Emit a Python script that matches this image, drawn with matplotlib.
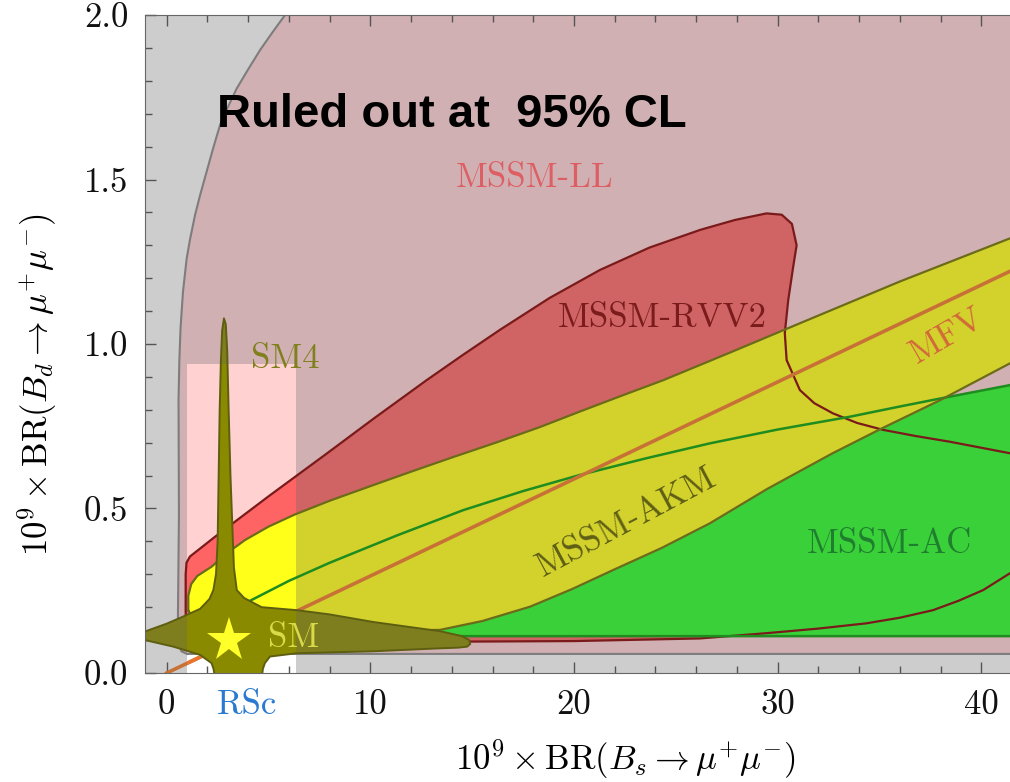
import matplotlib
matplotlib.use('Agg')
import matplotlib.pyplot as plt
from matplotlib.patches import Rectangle
from matplotlib.ticker import MultipleLocator

plt.rcParams['font.family'] = ['cmr10', 'DejaVu Serif']
plt.rcParams['mathtext.fontset'] = 'cm'
plt.rcParams['axes.unicode_minus'] = False
plt.rcParams['axes.formatter.use_mathtext'] = True

# allowed region (RSc box)
rsc_x0, rsc_x1, rsc_y1 = 1.0, 6.35, 0.94

# MSSM-LL region
ll_x = [1.0, 0.72, 0.6, 0.55, 0.6, 0.58, 0.62, 0.68, 0.8, 0.98, 1.15, 1.39, 1.65, 1.96, 2.28, 2.62, 3.0,
        3.44, 4.0, 4.6, 5.2, 5.81, 7.2, 43.0, 43.0]
ll_y = [0.058, 0.066, 0.09, 0.17, 0.48, 0.83, 0.95, 1.05, 1.16, 1.26, 1.32, 1.392, 1.455, 1.524, 1.595, 1.666,
        1.72, 1.777, 1.835, 1.895, 1.948, 2.0, 2.1, 2.1, 0.058]

# MSSM-RVV2 region
rvv_x = [0.95, 0.93, 0.93, 0.97, 1.14, 2.37, 5.0, 7.77, 10.2, 12.76, 14.5, 16.36, 18.8, 21.27, 23.7, 26.2,
         27.9, 29.45, 30.2, 30.7, 30.93, 30.75, 30.52, 30.35, 30.44, 31.09, 31.8, 32.72, 33.9, 35.18, 36.8,
         38.45, 41.4, 43.0, 43.0, 41.4, 40.09, 38.9, 37.63, 36.0, 34.36, 32.0, 29.45, 26.18, 20.0, 10.0, 3.0,
         1.2]
rvv_y = [0.12, 0.19, 0.3, 0.335, 0.354, 0.414, 0.537, 0.663, 0.775, 0.89, 0.965, 1.043, 1.14, 1.225, 1.293,
         1.347, 1.377, 1.397, 1.393, 1.365, 1.3, 1.23, 1.134, 1.033, 0.951, 0.86, 0.82, 0.789, 0.76, 0.739,
         0.72, 0.703, 0.668, 0.65, 0.35, 0.303, 0.252, 0.22, 0.191, 0.168, 0.151, 0.135, 0.121, 0.105, 0.097,
         0.094, 0.094, 0.1]

# MSSM-AC region (upper boundary + bottom)
ac_top_x = [3.0, 4.17, 6.0, 8.0, 11.3, 14.56, 17.5, 20.29, 23.5, 26.67, 30.0, 33.55, 36.0, 38.45, 41.4, 43.0]
ac_top_y = [0.18, 0.222, 0.28, 0.335, 0.418, 0.495, 0.553, 0.602, 0.652, 0.698, 0.74, 0.779, 0.81, 0.84,
            0.875, 0.89]
ac_bottom = 0.112

# MSSM-AKM band
akm_up_x = [1.06, 1.06, 1.2, 1.5, 2.2, 3.0, 3.84, 5.0, 6.3, 8.02, 10.0, 12.0, 14.0, 16.2, 18.3, 20.3, 22.3,
            24.38, 27.7, 31.09, 36.0, 41.4, 43.0]
akm_up_y = [0.19, 0.235, 0.27, 0.295, 0.323, 0.366, 0.404, 0.445, 0.482, 0.524, 0.568, 0.612, 0.655, 0.701,
            0.747, 0.795, 0.842, 0.89, 0.975, 1.063, 1.19, 1.321, 1.36]
akm_lo_x = [43.0, 41.4, 38.0, 35.0, 32.7, 29.5, 26.67, 24.3, 21.92, 19.9, 17.84, 15.5, 13.42, 10.0, 5.0, 2.0,
            1.2]
akm_lo_y = [0.99, 0.941, 0.83, 0.74, 0.668, 0.56, 0.455, 0.38, 0.313, 0.255, 0.2015, 0.158, 0.131, 0.128,
            0.135, 0.15, 0.175]

# SM4 region
sm4_x = [-1.5, -1.07, 0.0, 0.75, 1.64, 2.1, 2.29, 2.42, 2.5, 2.55, 2.6, 2.66, 2.72, 2.81, 2.9, 2.97, 3.04,
         3.13, 3.22, 3.3, 3.44, 3.8, 4.66, 6.38, 8.0, 10.14, 13.42, 14.5, 14.85, 14.9, 14.75, 14.3, 13.42,
         10.14, 6.38, 5.07, 4.82, 4.72, 4.68, 2.36, 2.3, 2.2, 1.64, 0.33, -1.07, -1.5]
sm4_y = [0.126, 0.126, 0.15, 0.17, 0.195, 0.225, 0.252, 0.3, 0.4, 0.6, 0.8, 0.95, 1.04, 1.078, 1.06, 0.98,
         0.8, 0.6, 0.45, 0.32, 0.252, 0.228, 0.2, 0.191, 0.178, 0.155, 0.127, 0.112, 0.1, 0.088, 0.08, 0.077,
         0.075, 0.066, 0.06, 0.05, 0.03, 0.012, -0.01, -0.01, 0.012, 0.03, 0.055, 0.08, 0.1, 0.1]

# MFV line and SM point
mfv_x = [0.0, 43.0]
mfv_y = [0.0, 1.268]
sm_point = (3.05, 0.1)

xticks = [0, 10, 20, 30, 40]
xticklabels = ['0', '10', '20', '30', '40']
yticks = [0.0, 0.5, 1.0, 1.5, 2.0]
yticklabels = ['0.0', '0.5', '1.0', '1.5', '2.0']

fig = plt.figure(figsize=(10.1, 7.82), dpi=100)
ax = fig.add_axes([0.1436, 0.1394, 0.876, 0.8414])
ax.set_xlim(-1.065, 42.38)
ax.set_ylim(0, 2.0)
ax.set_facecolor('#cdcdcd')

rsc_clip = Rectangle((rsc_x0, 0), rsc_x1 - rsc_x0, rsc_y1, transform=ax.transData)
ax.add_patch(Rectangle((rsc_x0, 0), rsc_x1 - rsc_x0, rsc_y1, color='white', lw=0, zorder=0.5))


def region(xs, ys, c_out, c_in, z):
    ax.fill(xs, ys, color=c_out, lw=0, zorder=z)
    inner = ax.fill(xs, ys, color=c_in, lw=0, zorder=z + 0.01)[0]
    inner.set_clip_path(rsc_clip)


ac_x = ac_top_x + [ac_top_x[-1], ac_top_x[0]]
ac_y = ac_top_y + [ac_bottom, ac_bottom]
akm_x = akm_up_x + akm_lo_x
akm_y = akm_up_y + akm_lo_y

region(ll_x, ll_y, '#d1b0b3', '#ffd1d1', 1)
region(rvv_x, rvv_y, '#d06363', '#ff6464', 2)
region(ac_x, ac_y, '#3ad03a', '#3ad03a', 3)
region(akm_x, akm_y, '#d3d12c', '#ffff1a', 4)

# outlines
ax.plot(ll_x + ll_x[:1], ll_y + ll_y[:1], color='#7d7d7d', lw=1.5, zorder=5)
ax.plot(rvv_x + rvv_x[:1], rvv_y + rvv_y[:1], color='#7a1a1a', lw=1.6, zorder=5)
ax.plot(ac_x + ac_x[:1], ac_y + ac_y[:1], color='#1e8c1e', lw=1.8, zorder=5.1)
ax.plot(akm_x + akm_x[:1], akm_y + akm_y[:1], color='#6b6b1a', lw=1.6, zorder=5.2)
ax.plot(mfv_x, mfv_y, color='#c87137', lw=2.6, zorder=5.3)
mfv_in = ax.plot(mfv_x, mfv_y, color='#e8742e', lw=2.6, zorder=5.31)[0]
mfv_in.set_clip_path(rsc_clip)

region(sm4_x, sm4_y, '#7e7e1e', '#8a8a00', 6)
ax.plot(sm4_x, sm4_y, color='#5e5e10', lw=1.4, zorder=6.1)
ax.plot(*sm_point, marker='*', markersize=33, color='#ffff2a', markeredgewidth=0, zorder=7)

# labels
lab = dict(fontsize=25, zorder=8)
ax.text(18.04, 1.478, 'MSSM-LL', color='#dd5f63', ha='center', va='baseline', **lab)
ax.text(24.34, 1.053, 'MSSM-RVV2', color='#7a1c1c', ha='center', va='baseline', **lab)
ax.text(5.81, 0.926, 'SM4', color='#80801e', ha='center', va='baseline', **lab)
ax.text(6.25, 0.08, 'SM', color='#dada48', ha='center', va='baseline', **lab)
ax.text(35.47, 0.366, 'MSSM-AC', color='#1f7f2f', ha='center', va='baseline', **lab)
ax.text(22.79, 0.435, 'MSSM-AKM', color='#5f5f15', ha='center', va='baseline', rotation=28,
        rotation_mode='anchor', **lab)
ax.text(38.53, 1.0, 'MFV', color='#d2693a', ha='center', va='baseline', rotation=30,
        rotation_mode='anchor', **lab)
ax.text(2.47, 1.66, 'Ruled out at  95% CL', family='Liberation Sans', weight='bold', fontsize=34,
        color='black', ha='left', va='baseline', zorder=9)

# axes styling
ax.set_xticks(xticks, labels=xticklabels)
ax.set_yticks(yticks, labels=yticklabels)
ax.xaxis.set_minor_locator(MultipleLocator(2))
ax.yaxis.set_minor_locator(MultipleLocator(0.1))
ax.tick_params(which='both', direction='in', top=True, right=True, color='#555555', labelsize=25,
               pad=12, labelcolor='#111111')
ax.tick_params(which='major', length=8, width=1)
ax.tick_params(which='minor', length=5, width=1)
for s in ax.spines.values():
    s.set_color('#666666')
    s.set_zorder(10)
ax.annotate('RSc', xy=(3.95, 0), xycoords=('data', 'axes fraction'), xytext=(0, -12),
            textcoords='offset points', ha='center', va='top', fontsize=25, color='#2a7bd0')

ax.set_xlabel(r'$10^9 \times \mathrm{BR}(B_s \to \mu^{+}\mu^{-})$', fontsize=25)
ax.set_ylabel(r'$10^9 \times \mathrm{BR}(B_d \to \mu^{+}\mu^{-})$', fontsize=25)
ax.xaxis.set_label_coords(0.5435, -0.098)
ax.yaxis.set_label_coords(-0.097, 0.438)

fig.savefig('out.png', dpi=100)
